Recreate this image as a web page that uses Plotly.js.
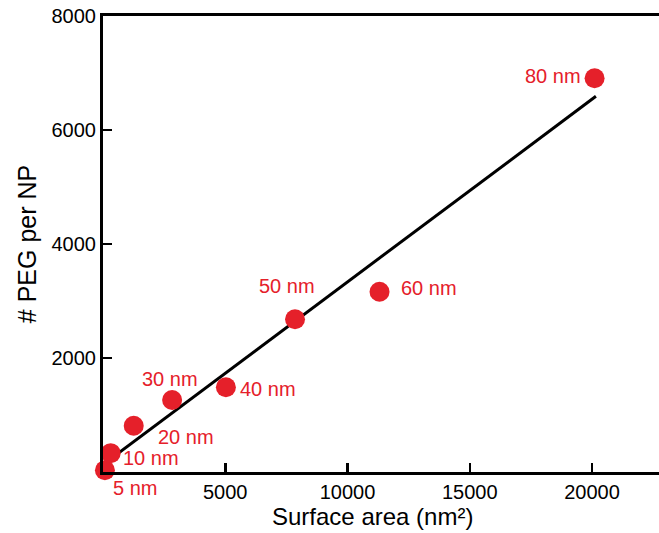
<!DOCTYPE html>
<html>
<head>
<meta charset="utf-8">
<script src="https://cdn.plot.ly/plotly-3.0.1.min.js"></script>
<style>html,body{margin:0;padding:0;background:#fff;}#chart{width:659px;height:533px;}</style>
</head>
<body>
<div id="chart"></div>
<script>
// Data
var sizes = ['5 nm', '10 nm', '20 nm', '30 nm', '40 nm', '50 nm', '60 nm', '80 nm'];
var surfaceArea = [78.5, 314, 1257, 2827, 5027, 7854, 11310, 20106];
var pegPerNP = [30, 330, 812, 1263, 1486, 2679, 3163, 6907];
var xTicks = [5000, 10000, 15000, 20000];
var yTicks = [2000, 4000, 6000, 8000];
var fitXRange = [30, 20160];

// label offsets (pixels) relative to each point
var labelDX = [30, 40, 52, -2, 42, -8, 49, -42];
var labelDY = [-18, -5, -11, 21, -2, 33, 4, 2];

// least-squares fit
var n = surfaceArea.length, mx = 0, my = 0;
for (var i = 0; i < n; i++) { mx += surfaceArea[i]; my += pegPerNP[i]; }
mx /= n; my /= n;
var sxy = 0, sxx = 0;
for (var i = 0; i < n; i++) { sxy += (surfaceArea[i]-mx)*(pegPerNP[i]-my); sxx += (surfaceArea[i]-mx)*(surfaceArea[i]-mx); }
var slope = sxy / sxx, icpt = my - slope * mx;
var fitY = fitXRange.map(function (x) { return icpt + slope * x; });

var red = '#e5202a';
var fontFam = '"Liberation Sans", Arial, Helvetica, sans-serif';

var traces = [
  { x: fitXRange, y: fitY, mode: 'lines', line: { color: '#000', width: 3 }, hoverinfo: 'skip', cliponaxis: false },
  { x: surfaceArea, y: pegPerNP, mode: 'markers', marker: { color: red, size: 20 }, cliponaxis: false, text: sizes }
];

var annotations = sizes.map(function (s, i) {
  return { x: surfaceArea[i], y: pegPerNP[i], xref: 'x', yref: 'y', text: s, showarrow: false,
    xshift: labelDX[i], yshift: labelDY[i], font: { family: fontFam, size: 20, color: red } };
});
annotations.push({ xref: 'paper', yref: 'paper', x: 0.484, y: -0.098, yanchor: 'middle', xanchor: 'center',
  text: 'Surface area (nm²)', showarrow: false, font: { size: 24, family: fontFam, color: '#000' } });

var layout = {
  width: 659, height: 533,
  margin: { l: 103, r: 0, t: 16, b: 61 },
  paper_bgcolor: '#fff', plot_bgcolor: '#fff',
  showlegend: false,
  font: { family: fontFam, color: '#000' },
  xaxis: {
    range: [0, 22740], tickvals: xTicks, ticktext: xTicks.map(String),
    ticks: 'inside', ticklen: 9, tickwidth: 2.5, tickcolor: '#000',
    showline: true, linecolor: '#000', linewidth: 3, mirror: true,
    showgrid: false, zeroline: false,
    tickfont: { size: 20, family: fontFam, color: '#000' }
  },
  yaxis: {
    range: [0, 8000], tickvals: yTicks, ticktext: yTicks.map(String),
    ticks: 'inside', ticklen: 9, tickwidth: 2.5, tickcolor: '#000',
    showline: true, linecolor: '#000', linewidth: 3,
    showgrid: false, zeroline: false,
    tickfont: { size: 20, family: fontFam, color: '#000' },
    title: { text: '# PEG per NP', font: { size: 25, family: fontFam, color: '#000' }, standoff: 8 }
  },
  annotations: annotations
};

Plotly.newPlot('chart', traces, layout, { displayModeBar: false, staticPlot: true });
</script>
</body>
</html>
